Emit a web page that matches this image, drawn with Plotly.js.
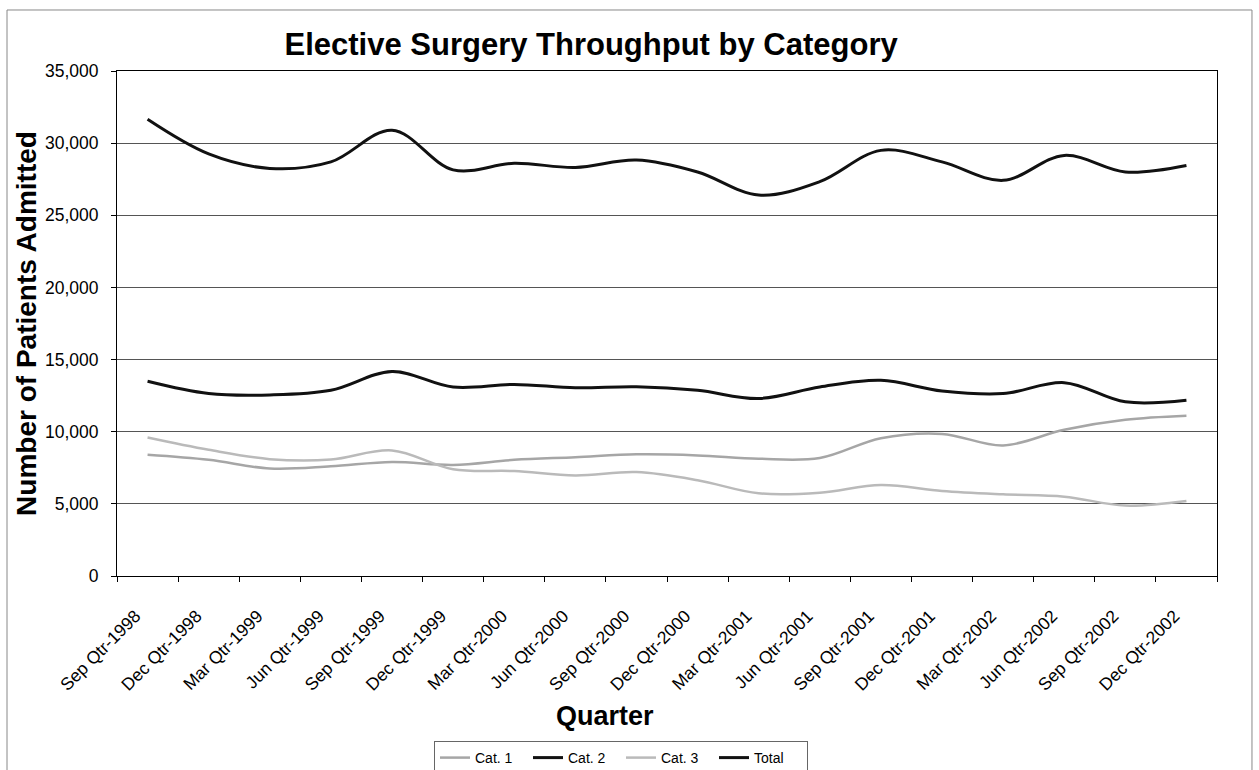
<!DOCTYPE html>
<html>
<head>
<meta charset="utf-8">
<script src="https://cdn.plot.ly/plotly-3.0.1.min.js"></script>
<style>
  html, body { margin: 0; padding: 0; background: #ffffff; width: 1259px; height: 770px; overflow: hidden; }
  #wrap { width: 1259px; height: 770px; overflow: hidden; }
  #chart { width: 1259px; height: 795px; }
</style>
</head>
<body>
<div id="wrap"><div id="chart"></div></div>
<script>
const quarters = [
  "Sep Qtr-1998", "Dec Qtr-1998", "Mar Qtr-1999", "Jun Qtr-1999", "Sep Qtr-1999", "Dec Qtr-1999",
  "Mar Qtr-2000", "Jun Qtr-2000", "Sep Qtr-2000", "Dec Qtr-2000", "Mar Qtr-2001", "Jun Qtr-2001",
  "Sep Qtr-2001", "Dec Qtr-2001", "Mar Qtr-2002", "Jun Qtr-2002", "Sep Qtr-2002", "Dec Qtr-2002"
];
const cat1 = [8400, 8050, 7450, 7600, 7900, 7700, 8050, 8230, 8430, 8360, 8130, 8180, 9550, 9850, 9050, 10140, 10830, 11110];
const cat2 = [13500, 12650, 12550, 12870, 14170, 13100, 13280, 13050, 13120, 12870, 12300, 13100, 13560, 12820, 12640, 13400, 12070, 12180];
const cat3 = [9600, 8750, 8100, 8070, 8700, 7400, 7270, 6970, 7200, 6640, 5730, 5770, 6300, 5890, 5660, 5500, 4880, 5200];
const total = [31650, 29250, 28250, 28700, 30900, 28150, 28600, 28320, 28830, 28000, 26400, 27330, 29500, 28700, 27420, 29150, 28000, 28450];

const seriesNames = ["Cat. 1", "Cat. 2", "Cat. 3", "Total"];
const seriesData = [cat1, cat2, cat3, total];
const seriesColors = ["#a6a6a6", "#111111", "#bababa", "#111111"];
const seriesWidths = [2.5, 3, 2.5, 3];

const traces = seriesData.map((vals, k) => ({
  type: "scatter",
  mode: "lines",
  name: seriesNames[k],
  x: quarters,
  y: vals,
  line: { color: seriesColors[k], width: seriesWidths[k], shape: "spline", smoothing: 1 }
}));

const font = "Liberation Sans, Arial, sans-serif";
const figH = 795;

const layout = {
  width: 1259,
  height: figH,
  paper_bgcolor: "#ffffff",
  plot_bgcolor: "#ffffff",
  margin: { l: 117, r: 42, t: 71, b: figH - 576 },
  font: { family: font, color: "#000000", size: 17 },
  title: {
    text: "<b>Elective Surgery Throughput by Category</b>",
    font: { family: font, size: 31, color: "#000000" },
    x: 0.431, xref: "paper", xanchor: "center",
    y: 1 - 44 / figH, yref: "container", yanchor: "middle"
  },
  xaxis: {
    type: "category",
    range: [-0.5, 17.5],
    tickangle: -45,
    tickfont: { family: font, size: 17.5 },
    ticks: "outside",
    tickson: "boundaries",
    ticklen: 5,
    tickcolor: "#000000",
    ticklabelstandoff: 22,
    ticklabelshift: -12,
    showgrid: false,
    showline: true,
    linecolor: "#000000",
    linewidth: 1,
    mirror: true,
    automargin: false
  },
  yaxis: {
    range: [0, 35000],
    dtick: 5000,
    tickformat: ",d",
    title: { text: "<b>Number of Patients Admitted</b>", font: { family: font, size: 28 }, standoff: 0 },
    tickfont: { family: font, size: 17.5 },
    ticks: "outside",
    ticklen: 5,
    tickcolor: "#000000",
    ticklabelstandoff: 9,
    showgrid: true,
    gridcolor: "#555555",
    gridwidth: 1,
    showline: true,
    linecolor: "#000000",
    linewidth: 1,
    mirror: true,
    zeroline: false,
    automargin: false
  },
  annotations: [
    {
      text: "<b>Quarter</b>",
      xref: "paper", yref: "paper",
      x: (605 - 117) / 1100, y: (576 - 716) / 505,
      xanchor: "center", yanchor: "middle",
      showarrow: false,
      font: { family: font, size: 27, color: "#000000" }
    }
  ],
  showlegend: true,
  legend: {
    orientation: "h",
    x: (621 - 117) / 1100, xanchor: "center",
    y: (576 - 741) / 505, yanchor: "top",
    bordercolor: "#666666",
    borderwidth: 1,
    bgcolor: "#ffffff",
    font: { family: font, size: 14 },
    entrywidth: 48,
    tracegroupgap: 0
  },
  shapes: [
    {
      type: "rect", xref: "paper", yref: "paper",
      x0: -0.1, x1: 1.0318, y0: (576 - 790) / 505, y1: 1.1208,
      line: { color: "#888888", width: 1 }, fillcolor: "rgba(0,0,0,0)", layer: "below"
    }
  ]
};

Plotly.newPlot("chart", traces, layout, { displayModeBar: false, staticPlot: true });
</script>
</body>
</html>
